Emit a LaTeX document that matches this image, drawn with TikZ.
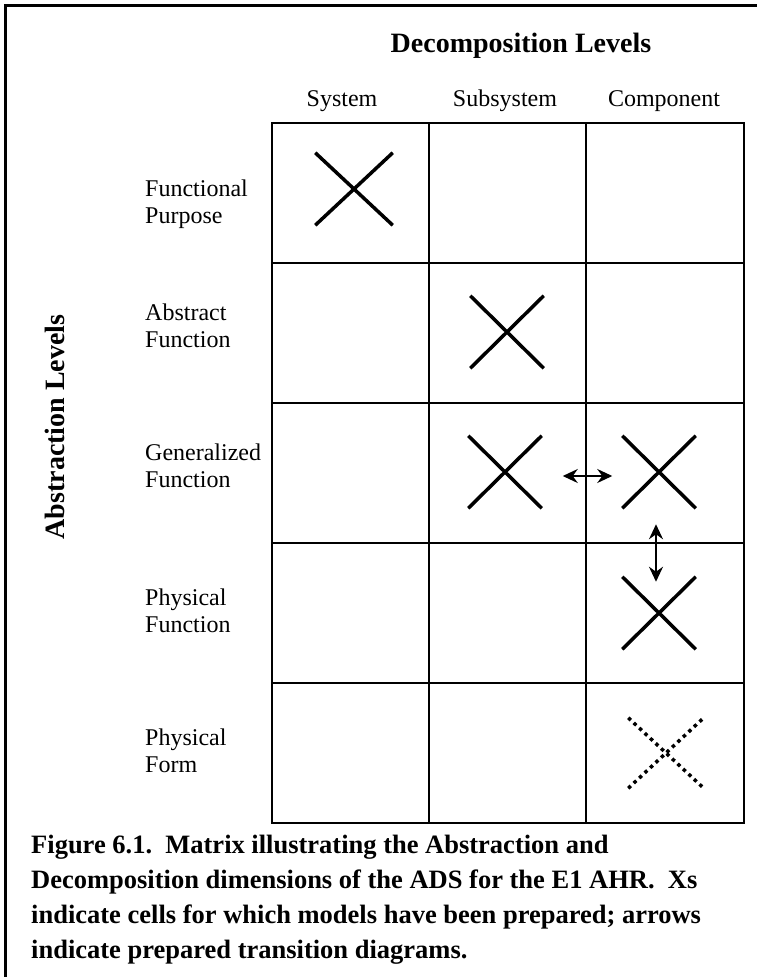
\documentclass[tikz,border=0pt]{standalone}
\usepackage{fontspec}
\setmainfont{Liberation Serif}
\usetikzlibrary{arrows.meta,shapes.misc}

\begin{document}
\begin{tikzpicture}[x=1pt,y=-1pt,
  lbl/.style={font=\fontsize{24}{27}\selectfont,align=left,anchor=west,inner sep=0pt},
  hdr/.style={font=\fontsize{28}{32}\selectfont\bfseries,inner sep=0pt},
  xmark/.style={cross out,draw,line width=3.5pt,inner sep=0pt,minimum width=70pt,minimum height=69pt},
  trans/.style={{Stealth[length=15pt,width=14pt,inset=5pt]}-{Stealth[length=15pt,width=14pt,inset=5pt]},line width=2pt}]
\useasboundingbox (0,0) rectangle (757,977);
% frame, open at right and bottom
\draw[line width=3pt] (5,977) -- (5,5) -- (757,5);
% headings
\node[hdr,anchor=base] (dtitle) at (521,52) {Decomposition Levels};
\node[hdr,rotate=90] (atitle) at (55,427) {Abstraction Levels};
\node[lbl,anchor=base] (csys) at (342,106) {System};
\node[lbl,anchor=base] (csub) at (505,106) {Subsystem};
\node[lbl,anchor=base] (ccomp) at (664,106) {Component};
% row labels
\node[lbl] (rpurp) at (145,204) {Functional\\Purpose};
\node[lbl] (rabs) at (145,326) {Abstract\\Function};
\node[lbl] (rgen) at (145,466) {Generalized\\Function};
\node[lbl] (rphys) at (145,611) {Physical\\Function};
\node[lbl] (rform) at (145,751) {Physical\\Form};
% matrix grid
\draw[line width=2.8pt] (272,123) rectangle (744,823);
\foreach \x in {429,586} \draw[line width=2.8pt] (\x,123) -- (\x,823);
\foreach \y in {263,403,543,683} \draw[line width=2.8pt] (272,\y) -- (744,\y);
% prepared models
\node[xmark,minimum width=74pt] (x11) at (354,189) {};
\node[xmark] (x22) at (507,332) {};
\node[xmark] (x32) at (505,472) {};
\node[xmark] (x33) at (659,472) {};
\node[xmark] (x43) at (659,613) {};
\node[xmark,dash pattern=on 3.5pt off 4pt,minimum width=72pt,minimum height=67pt] (x53) at (666,753) {};
% transition diagrams
\draw[trans,shorten <=21pt,shorten >=10pt] ([yshift=-4pt]x32.east) -- ([yshift=-4pt]x33.west);
\draw[trans,shorten <=16pt,shorten >=-5pt] ([xshift=-3pt]x33.south) -- ([xshift=-3pt]x43.north);
% caption
\node[font=\fontsize{26.5}{35}\selectfont\bfseries,align=left,anchor=north west,inner sep=0pt] (caption) at (31,835)
  {Figure 6.1.\enspace Matrix illustrating the Abstraction and\\
   Decomposition dimensions of the ADS for the E1 AHR.\enspace Xs\\
   indicate cells for which models have been prepared; arrows\\
   indicate prepared transition diagrams.};
\end{tikzpicture}
\end{document}
